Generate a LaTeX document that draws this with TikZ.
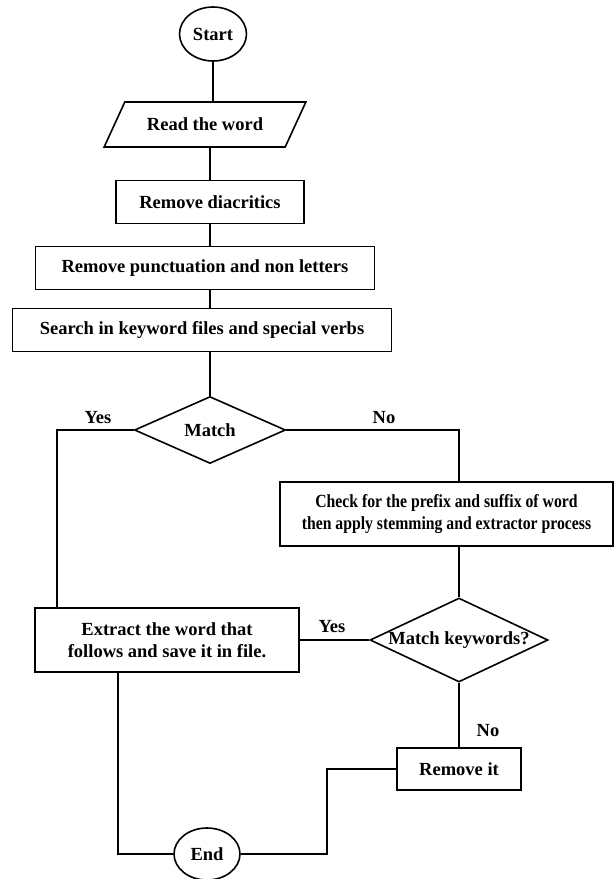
\documentclass[tikz,border=0pt]{standalone}
\usepackage{fontspec}
\setmainfont{Liberation Serif}
\newfontfamily\narrowfont[FakeStretch=0.85]{Liberation Serif}
\usetikzlibrary{shapes.geometric}

\begin{document}
\begin{tikzpicture}[x=1pt, y=-1pt, line width=1.6pt,
	font=\fontsize{18.5}{22}\selectfont\bfseries,
	every node/.style={inner sep=0pt},
	process/.style={draw, rectangle, minimum height=43, align=center},
	decision/.style={draw, diamond},
	terminal/.style={draw, ellipse, minimum width=67, minimum height=54}]
	\useasboundingbox (0,0) rectangle (616,879);
	
	\node[terminal] (start) at (213,34) {Start};
	\node[draw, trapezium, trapezium left angle=41, trapezium right angle=139,
		trapezium stretches=true, minimum width=202, minimum height=45] (read)
		at (205,124.5) {Read the word};
	\node[process, minimum width=188] (diacritics)  at (210,202) {Remove diacritics};
	\node[process, minimum width=339] (punctuation) at (205,268) 
		{Remove punctuation and non letters};
	\node[process, minimum width=379] (search)      at (202,330) 
		{Search in keyword files and special verbs};
	\node[decision, minimum width=151, minimum height=67] (match) at (210,430) 
		{Match};
	\node[process, minimum width=333, minimum height=64] (check) at (446.5,514) 
		{\narrowfont\bfseries Check for the prefix and suffix of word\\
		\narrowfont\bfseries then apply stemming and extractor process};
	\node[decision, minimum width=178, minimum height=84] (keywords) at (459,640) 
		{\makebox[0pt]{Match keywords?}};
	\node[process, minimum width=264, minimum height=64] (extract) at (167,640) 
		{Extract the word that\\ follows and save it in file.};
	\node[process, minimum width=124, minimum height=42] (removeit) at (459,769) 
		{Remove it};
	\node[terminal, minimum width=66, minimum height=52] (end) at (207,854) {End};
	
	\node (yesmatch)    at (98,418)  {Yes};
	\node (nomatch)     at (384,418) {No};
	\node (yeskeywords) at (332,627) {Yes};
	\node (nokeywords)  at (488,731) {No};
	
	\draw (start) -- (start |- read.north);
	\draw (read.south -| diacritics) -- (diacritics);
	\draw (diacritics) -- (diacritics |- punctuation.north);
	\draw (punctuation.south -| diacritics) -- (search.north -| diacritics);
	\draw (search.south -| match) -- (match);
	\draw (match.west) -| ([xshift=23pt]extract.north west);
	\draw (match.east) -| (keywords.north |- check.north);
	\draw (keywords.north |- check.south) -- (keywords.north);
	\draw (keywords.west) -- (extract.east);
	\draw (keywords.south) -- (removeit.north);
	\draw (removeit.west) -- ++(-69,0) |- (end.east);
	\draw ([xshift=-49pt]extract.south) |- (end.west);
\end{tikzpicture}
\end{document}
